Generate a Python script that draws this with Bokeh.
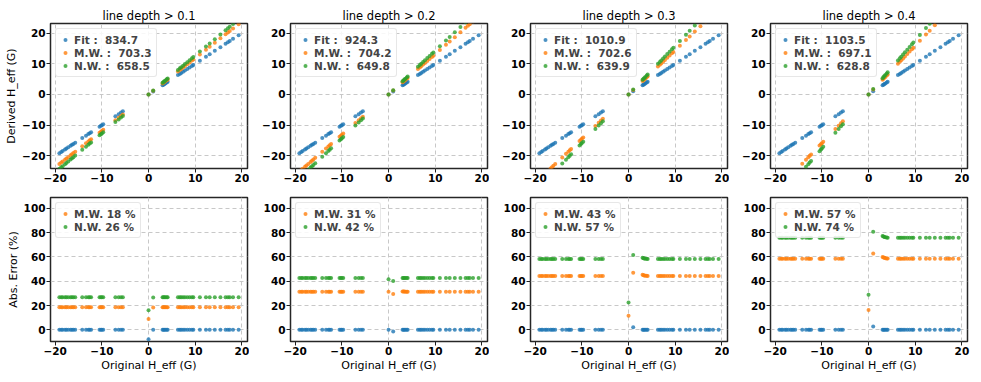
from bokeh.plotting import figure
from bokeh.layouts import gridplot
from bokeh.models import FixedTicker, Range1d, Legend
from bokeh.embed import file_html
from bokeh.resources import INLINE

# ---------------- data ----------------
thresholds = ["0.1", "0.2", "0.3", "0.4"]
chi_fit = ["834.7", "924.3", "1010.9", "1103.5"]
chi_mw = ["703.3", "704.2", "702.6", "697.1"]
chi_nw = ["658.5", "649.8", "639.9", "628.8"]
mean_err_mw = [18, 31, 43, 57]
mean_err_nw = [26, 42, 57, 74]

orig_h = [
    -19.1, -18.7, -18.4, -17.9, -17.6, -17.2, -16.7, -16.4, -16.1, -15.7,
    -14.2, -13.4, -12.9, -12.6, -12.3, -10.5, -10.2, -10.0, -9.7, -7.1, -6.4, -5.9, -5.5,
    0.0, 1.0,
    3.0, 3.2, 3.4, 3.6, 3.9, 4.1,
    6.3, 6.7, 7.0, 7.4, 7.8, 8.3, 8.8, 9.3, 9.6, 11.0, 12.3, 13.1, 14.2, 15.4, 16.5, 17.0, 17.4, 18.1, 19.3,
]

# absolute error (%) of each method, per line-depth threshold
err_fit_p1 = [
    0.0, 0.0, 0.0, 0.0, 0.0, 0.0, 0.0, 0.0, 0.0, 0.0,
    0.0, 0.0, 0.0, 0.0, 0.0, 0.0, 0.0, 0.0, 0.0, 0.0, 0.0, 0.0, 0.0,
    -7.8, 0.0,
    0.0, 0.0, 0.0, 0.0, 0.0, 0.0,
    0.0, 0.0, 0.0, 0.0, 0.0, 0.0, 0.0, 0.0, 0.0, 0.0, 0.0, 0.0, 0.0, 0.0, 0.0, 0.0, 0.0, 0.0, 0.0,
]
err_mw_p1 = [
    18.6, 18.6, 18.6, 18.6, 18.6, 18.6, 18.6, 18.6, 18.6, 18.6,
    18.6, 18.6, 18.6, 18.6, 18.6, 18.6, 18.6, 18.6, 18.6, 18.6, 18.6, 18.6, 18.6,
    8.9, 18.5,
    18.7, 18.7, 18.6, 18.6, 18.6, 18.6,
    18.6, 18.6, 18.6, 18.6, 18.6, 18.6, 18.6, 18.6, 18.6, 18.6, 18.6, 18.6, 18.6, 18.6, 18.6, 18.6, 18.6, 18.6, 18.6,
]
err_nw_p1 = [
    26.8, 26.8, 26.8, 26.8, 26.8, 26.8, 26.8, 26.8, 26.8, 26.8,
    26.8, 26.8, 26.8, 26.8, 26.8, 26.8, 26.8, 26.8, 26.8, 26.8, 26.8, 26.8, 26.8,
    16.2, 26.6,
    26.9, 26.9, 26.8, 26.8, 26.8, 26.8,
    26.8, 26.8, 26.8, 26.8, 26.8, 26.8, 26.8, 26.8, 26.8, 26.8, 26.8, 26.8, 26.8, 26.8, 26.8, 26.8, 26.8, 26.8, 26.8,
]

err_fit_p2 = [
    0.0, 0.0, 0.0, 0.0, 0.0, 0.0, 0.0, 0.0, 0.0, 0.0,
    0.0, 0.0, 0.0, 0.0, 0.0, 0.0, 0.0, 0.0, 0.0, 0.0, 0.0, 0.0, 0.0,
    0.0, -1.4,
    0.0, 0.0, 0.0, 0.0, 0.0, 0.0,
    0.0, 0.0, 0.0, 0.0, 0.0, 0.0, 0.0, 0.0, 0.0, 0.0, 0.0, 0.0, 0.0, 0.0, 0.0, 0.0, 0.0, 0.0, 0.0,
]
err_mw_p2 = [
    31.4, 31.4, 31.4, 31.4, 31.4, 31.4, 31.4, 31.4, 31.4, 31.4,
    31.4, 31.4, 31.4, 31.4, 31.4, 31.4, 31.4, 31.4, 31.4, 31.4, 31.4, 31.4, 31.4,
    31.4, 29.5,
    31.6, 31.5, 31.5, 31.4, 31.4, 31.4,
    31.4, 31.4, 31.4, 31.4, 31.4, 31.4, 31.4, 31.4, 31.4, 31.4, 31.4, 31.4, 31.4, 31.4, 31.4, 31.4, 31.4, 31.4, 31.4,
]
err_nw_p2 = [
    42.6, 42.6, 42.6, 42.6, 42.6, 42.6, 42.6, 42.6, 42.6, 42.6,
    42.6, 42.6, 42.6, 42.6, 42.6, 42.6, 42.6, 42.6, 42.6, 42.6, 42.6, 42.6, 42.6,
    41.6, 40.2,
    42.8, 42.7, 42.7, 42.6, 42.6, 42.6,
    42.6, 42.6, 42.6, 42.6, 42.6, 42.6, 42.6, 42.6, 42.6, 42.6, 42.6, 42.6, 42.6, 42.6, 42.6, 42.6, 42.6, 42.6, 42.6,
]

err_fit_p3 = [
    0.0, 0.0, 0.0, 0.0, 0.0, 0.0, 0.0, 0.0, 0.0, 0.0,
    0.0, 0.0, 0.0, 0.0, 0.0, 0.0, 0.0, 0.0, 0.0, 0.0, 0.0, 0.0, 0.0,
    -20.0, 2.2,
    0.0, 0.0, 0.0, 0.0, 0.0, 0.0,
    0.0, 0.0, 0.0, 0.0, 0.0, 0.0, 0.0, 0.0, 0.0, 0.0, 0.0, 0.0, 0.0, 0.0, 0.0, 0.0, 0.0, 0.0, 0.0,
]
err_mw_p3 = [
    44.3, 44.3, 44.3, 44.3, 44.3, 44.3, 44.3, 44.3, 44.3, 44.3,
    44.3, 44.3, 44.3, 44.3, 44.3, 44.3, 44.3, 44.3, 44.3, 44.3, 44.3, 44.3, 44.3,
    11.6, 47.1,
    45.3, 45.0, 44.8, 44.6, 44.5, 44.4,
    44.3, 44.3, 44.3, 44.3, 44.3, 44.3, 44.3, 44.3, 44.3, 44.3, 44.3, 44.3, 44.3, 44.3, 44.3, 44.3, 44.3, 44.3, 44.3,
]
err_nw_p3 = [
    58.3, 58.3, 58.3, 58.3, 58.3, 58.3, 58.3, 58.3, 58.3, 58.3,
    58.3, 58.3, 58.3, 58.3, 58.3, 58.3, 58.3, 58.3, 58.3, 58.3, 58.3, 58.3, 58.3,
    22.6, 61.7,
    59.4, 59.0, 58.8, 58.6, 58.5, 58.4,
    58.3, 58.3, 58.3, 58.3, 58.3, 58.3, 58.3, 58.3, 58.3, 58.3, 58.3, 58.3, 58.3, 58.3, 58.3, 58.3, 58.3, 58.3, 58.3,
]

err_fit_p4 = [
    0.0, 0.0, 0.0, 0.0, 0.0, 0.0, 0.0, 0.0, 0.0, 0.0,
    0.0, 0.0, 0.0, 0.0, 0.0, 0.0, 0.0, 0.0, 0.0, 0.0, 0.0, 0.0, 0.0,
    -20.0, 2.8,
    0.0, 0.0, 0.0, 0.0, 0.0, 0.0,
    0.0, 0.0, 0.0, 0.0, 0.0, 0.0, 0.0, 0.0, 0.0, 0.0, 0.0, 0.0, 0.0, 0.0, 0.0, 0.0, 0.0, 0.0, 0.0,
]
err_mw_p4 = [
    58.6, 58.6, 58.6, 58.6, 58.6, 58.6, 58.6, 58.6, 58.6, 58.6,
    58.6, 58.6, 58.6, 58.6, 58.6, 58.6, 58.6, 58.6, 58.6, 58.6, 58.6, 58.6, 58.6,
    16.3, 62.8,
    60.0, 59.6, 59.3, 59.0, 58.8, 58.7,
    58.6, 58.6, 58.6, 58.6, 58.6, 58.6, 58.6, 58.6, 58.6, 58.6, 58.6, 58.6, 58.6, 58.6, 58.6, 58.6, 58.6, 58.6, 58.6,
]
err_nw_p4 = [
    75.8, 75.8, 75.8, 75.8, 75.8, 75.8, 75.8, 75.8, 75.8, 75.8,
    75.8, 75.8, 75.8, 75.8, 75.8, 75.8, 75.8, 75.8, 75.8, 75.8, 75.8, 75.8, 75.8,
    28.9, 80.7,
    77.2, 76.8, 76.5, 76.2, 76.0, 75.9,
    75.8, 75.8, 75.8, 75.8, 75.8, 75.8, 75.8, 75.8, 75.8, 75.8, 75.8, 75.8, 75.8, 75.8, 75.8, 75.8, 75.8, 75.8, 75.8,
]

err_fit = [err_fit_p1, err_fit_p2, err_fit_p3, err_fit_p4]
err_mw = [err_mw_p1, err_mw_p2, err_mw_p3, err_mw_p4]
err_nw = [err_nw_p1, err_nw_p2, err_nw_p3, err_nw_p4]

x_ticks = [-20, -10, 0, 10, 20]
top_y_ticks = [-20, -10, 0, 10, 20]
bot_y_ticks = [0, 20, 40, 60, 80, 100]

# ---------------- style ----------------
C_FIT, C_MW, C_NW = "#1f77b4", "#ff7f0e", "#2ca02c"
FONT = "DejaVu Sans"
MINUS = "\u2212"
SP2 = "\u00a0\u00a0"


def lbl(t):
    return (MINUS + str(-t)) if t < 0 else str(t)


def derived(xs, errs):
    return [x * (1.0 + e / 100.0) for x, e in zip(xs, errs)]


def style(p, yt, xlabel=None, ylabel=None):
    p.xaxis.ticker = FixedTicker(ticks=x_ticks)
    p.yaxis.ticker = FixedTicker(ticks=yt)
    p.xaxis.major_label_overrides = {t: lbl(t) for t in x_ticks}
    p.yaxis.major_label_overrides = {t: lbl(t) for t in yt}
    for ax in (p.xaxis, p.yaxis):
        ax.major_label_text_font = FONT
        ax.major_label_text_font_style = "bold"
        ax.major_label_text_font_size = "10.5px"
        ax.major_label_text_color = "#000000"
        ax.major_label_standoff = 1
        ax.major_tick_out = 4
        ax.major_tick_in = 0
        ax.major_tick_line_color = "#222222"
        ax.minor_tick_line_color = None
        ax.axis_line_color = None
        ax.axis_label_text_font = FONT
        ax.axis_label_text_font_style = "normal"
        ax.axis_label_text_font_size = "11px"
        ax.axis_label_text_color = "#000000"
        ax.axis_label_standoff = 1
    if xlabel:
        p.xaxis.axis_label = xlabel
    if ylabel:
        p.yaxis.axis_label = ylabel
    for g in (p.xgrid, p.ygrid):
        g.ticker = FixedTicker(ticks=x_ticks if g is p.xgrid else yt)
        g.grid_line_color = "#c8c8c8"
        g.grid_line_dash = "4 3"
        g.grid_line_width = 1
    p.outline_line_color = "#262626"
    p.outline_line_width = 1.5
    p.background_fill_color = "white"
    p.border_fill_color = "white"


def style_legend(p):
    lg = p.legend[0]
    lg.location = "top_left"
    lg.margin = 5
    lg.padding = 4
    lg.spacing = 0
    lg.label_height = 13
    lg.glyph_height = 13
    lg.glyph_width = 10
    lg.label_standoff = 4
    lg.label_text_font = FONT
    lg.label_text_font_style = "bold"
    lg.label_text_font_size = "10.5px"
    lg.border_line_color = "#d0d0d0"
    lg.border_line_width = 1
    lg.background_fill_alpha = 0.85
    if "border_radius" in Legend.properties():
        lg.border_radius = 3


# (left border, frame width, right border) per column
widths = [(50, 197, 2), (41, 197, 2), (41, 197, 2), (41, 197, 6)]

top_row, bot_row = [], []
for i in range(4):
    bl, fw, br = widths[i]
    w = bl + fw + br
    xr = Range1d(-21.0, 21.2)

    # ---- top: derived vs original ----
    p = figure(width=w, height=193, x_range=xr, y_range=Range1d(-24.1, 23.1),
               output_backend="svg", toolbar_location=None,
               min_border_left=bl, min_border_right=br,
               min_border_top=23, min_border_bottom=25,
               title="line depth > " + thresholds[i])
    p.title.text_font = FONT
    p.title.text_font_style = "normal"
    p.title.text_font_size = "11.5px"
    p.title.align = "center"
    p.title.standoff = 2
    p.title.text_color = "#000000"
    p.scatter(orig_h, derived(orig_h, err_fit[i]), size=4, fill_color=C_FIT,
              line_color=None, fill_alpha=0.8,
              legend_label="Fit :" + SP2 + chi_fit[i])
    p.scatter(orig_h, derived(orig_h, err_mw[i]), size=4, fill_color=C_MW,
              line_color=None, fill_alpha=0.8,
              legend_label="M.W. :" + SP2 + chi_mw[i])
    p.scatter(orig_h, derived(orig_h, err_nw[i]), size=4, fill_color=C_NW,
              line_color=None, fill_alpha=0.8,
              legend_label="N.W. :" + SP2 + chi_nw[i])
    style(p, top_y_ticks, ylabel="Derived H_eff (G)" if i == 0 else None)
    style_legend(p)
    top_row.append(p)

    # ---- bottom: absolute error ----
    q = figure(width=w, height=181, x_range=xr, y_range=Range1d(-9.6, 109.0),
               output_backend="svg", toolbar_location=None,
               min_border_left=bl, min_border_right=br,
               min_border_top=4, min_border_bottom=33)
    q.scatter(orig_h, err_fit[i], size=4, fill_color=C_FIT, line_color=None,
              fill_alpha=0.8)
    q.scatter(orig_h, err_mw[i], size=4, fill_color=C_MW, line_color=None,
              fill_alpha=0.8, legend_label="M.W. %d %%" % mean_err_mw[i])
    q.scatter(orig_h, err_nw[i], size=4, fill_color=C_NW, line_color=None,
              fill_alpha=0.8, legend_label="N.W. %d %%" % mean_err_nw[i])
    style(q, bot_y_ticks, xlabel="Original H_eff (G)",
          ylabel="Abs. Error (%)" if i == 0 else None)
    style_legend(q)
    bot_row.append(q)

grid = gridplot([top_row, bot_row], toolbar_location=None)

with open("out.html", "w") as f:
    f.write(file_html(grid, INLINE))
